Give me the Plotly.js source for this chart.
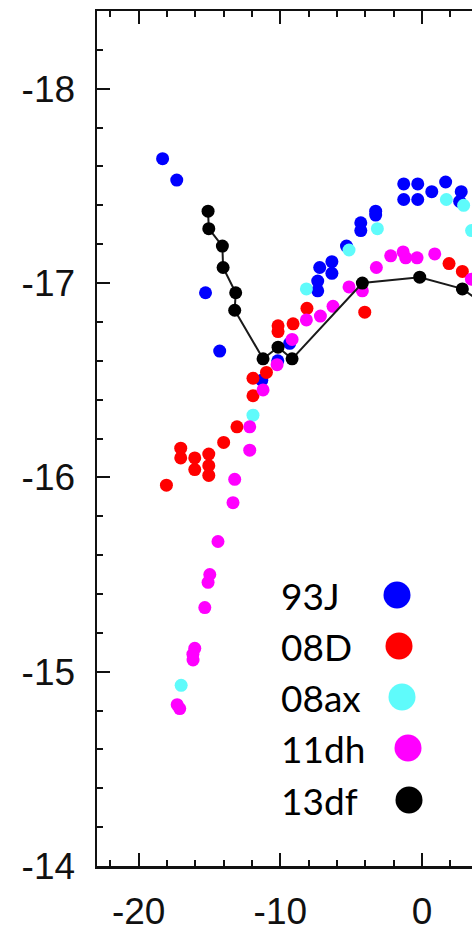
<!DOCTYPE html>
<html>
<head>
<meta charset="utf-8">
<script src="https://cdn.plot.ly/plotly-3.0.1.min.js"></script>
<style>
  html, body { margin: 0; padding: 0; background: #fff; overflow: hidden; }
  #chart { width: 472px; height: 932px; }
</style>
</head>
<body>
<div id="chart"></div>
<script>
// ---- Data ----
const seriesNames = ["93J", "08D", "08ax", "11dh", "13df"];

const x93J = [-18.31, -17.31, -15.28, -14.28, -11.31, -10.18, -9.34, -7.36, -7.36, -7.22, -6.36, -6.36, -5.33, -4.32, -4.32, -3.27, -3.27, -1.29, -1.29, -0.30, -0.30, 0.69, 1.67, 2.77, 2.66];
const y93J = [-17.64, -17.53, -16.95, -16.65, -16.50, -16.60, -16.69, -16.96, -17.01, -17.08, -17.11, -17.05, -17.19, -17.31, -17.27, -17.37, -17.35, -17.51, -17.43, -17.51, -17.43, -17.47, -17.52, -17.47, -17.42];

const x08D = [-18.04, -17.03, -17.03, -16.04, -16.04, -15.05, -15.05, -15.05, -14.00, -13.06, -11.93, -11.93, -10.98, -10.16, -10.16, -9.10, -8.12, -4.04, 1.91, 2.85];
const y08D = [-15.96, -16.15, -16.10, -16.10, -16.04, -16.12, -16.06, -16.01, -16.18, -16.26, -16.42, -16.51, -16.54, -16.78, -16.75, -16.79, -16.87, -16.85, -17.10, -17.06];

const x08ax = [-17.00, -11.93, -8.16, -5.15, -3.15, 1.72, 2.94, 3.50];
const y08ax = [-14.93, -16.32, -16.97, -17.17, -17.28, -17.43, -17.40, -17.27];

const x11dh = [-17.28, -17.10, -16.17, -16.16, -16.04, -15.33, -15.10, -14.98, -14.40, -13.34, -13.22, -12.16, -12.16, -11.22, -10.23, -9.17, -8.16, -7.17, -6.28, -5.15, -4.21, -3.22, -2.21, -1.33, -1.15, -0.35, 0.90, 3.49];
const y11dh = [-14.83, -14.81, -15.09, -15.06, -15.12, -15.33, -15.46, -15.50, -15.67, -15.87, -15.99, -16.14, -16.26, -16.45, -16.58, -16.71, -16.81, -16.83, -16.88, -16.98, -16.96, -17.08, -17.14, -17.16, -17.13, -17.13, -17.15, -17.02];

const x13df = [-15.10, -15.05, -14.09, -14.04, -13.15, -13.22, -11.22, -10.16, -9.17, -4.21, -0.16, 2.85, 4.60];
const y13df = [-17.37, -17.28, -17.19, -17.08, -16.95, -16.86, -16.61, -16.67, -16.61, -17.00, -17.03, -16.97, -16.88];

const xTickVals = [-20, -10, 0];
const xTickText = ["-20", "-10", "0"];
const yTickVals = [-18, -17, -16, -15, -14];
const yTickText = ["-18", "-17", "-16", "-15", "-14"];

const colors = ["#0000ff", "#ff0000", "#5ffbfb", "#ff00ff", "#000000"];

// ---- Layout geometry ----
const W = 472, H = 932;
const M = { l: 97, r: 0, t: 11, b: 66, pad: 0 };
const pX = p => (p - M.l) / (W - M.l - M.r);
const pY = p => (H - M.b - p) / (H - M.t - M.b);

const xs = [x93J, x08D, x08ax, x11dh, x13df];
const ys = [y93J, y08D, y08ax, y11dh, y13df];

const traces = seriesNames.map((name, i) => ({
  type: "scatter",
  mode: name === "13df" ? "lines+markers" : "markers",
  name: name,
  x: xs[i],
  y: ys[i],
  marker: { size: 13, color: colors[i], line: { width: 0 } },
  line: { color: "#1a1a1a", width: 2 },
  showlegend: false,
  hoverinfo: "skip"
}));

// Legend (text followed by dot, as in the reference)
const legendRowsY = [595, 646, 697, 748, 800];
const legendDotX = [397, 399, 402, 408, 409];
const legendTextX = 279;

const annotations = seriesNames.map((name, i) => ({
  xref: "paper", yref: "paper",
  x: pX(legendTextX), y: pY(legendRowsY[i]),
  xanchor: "left", yanchor: "middle",
  text: name, showarrow: false,
  font: { family: "Lato, 'Noto Sans', sans-serif", size: 37, color: "#000" }
}));

const shapes = seriesNames.map((name, i) => ({
  type: "circle",
  xref: "paper", yref: "paper",
  xsizemode: "pixel", ysizemode: "pixel",
  xanchor: pX(legendDotX[i]), yanchor: pY(legendRowsY[i]),
  x0: -13.5, x1: 13.5, y0: -13.5, y1: 13.5,
  fillcolor: colors[i], line: { width: 0 }
}));

const tickFont = { family: "'Liberation Sans', Arial, sans-serif", size: 37, color: "#111" };

const layout = {
  width: W, height: H,
  margin: M,
  paper_bgcolor: "#fff", plot_bgcolor: "#fff",
  showlegend: false,
  xaxis: {
    range: [-22.94, 3.53],
    tickmode: "array",
    tickvals: xTickVals,
    ticktext: xTickText,
    ticks: "inside", ticklen: 13, tickwidth: 2, tickcolor: "#111",
    minor: { dtick: 2, tick0: 0, ticks: "inside", ticklen: 6, tickwidth: 2, tickcolor: "#111" },
    showline: true, linecolor: "#111", linewidth: 2.5,
    mirror: "ticks",
    showgrid: false, zeroline: false,
    tickfont: tickFont,
    ticklabelstandoff: 11
  },
  yaxis: {
    range: [-14.0, -18.40],
    tickmode: "array",
    tickvals: yTickVals,
    ticktext: yTickText,
    ticks: "inside", ticklen: 13, tickwidth: 2, tickcolor: "#111",
    minor: { dtick: 0.2, tick0: 0, ticks: "inside", ticklen: 6, tickwidth: 2, tickcolor: "#111" },
    showline: true, linecolor: "#111", linewidth: 2.5,
    mirror: false,
    showgrid: false, zeroline: false,
    tickfont: tickFont,
    ticklabelstandoff: 12
  },
  annotations: annotations,
  shapes: shapes
};

Plotly.newPlot("chart", traces, layout, { staticPlot: true, displayModeBar: false });
</script>
</body>
</html>
